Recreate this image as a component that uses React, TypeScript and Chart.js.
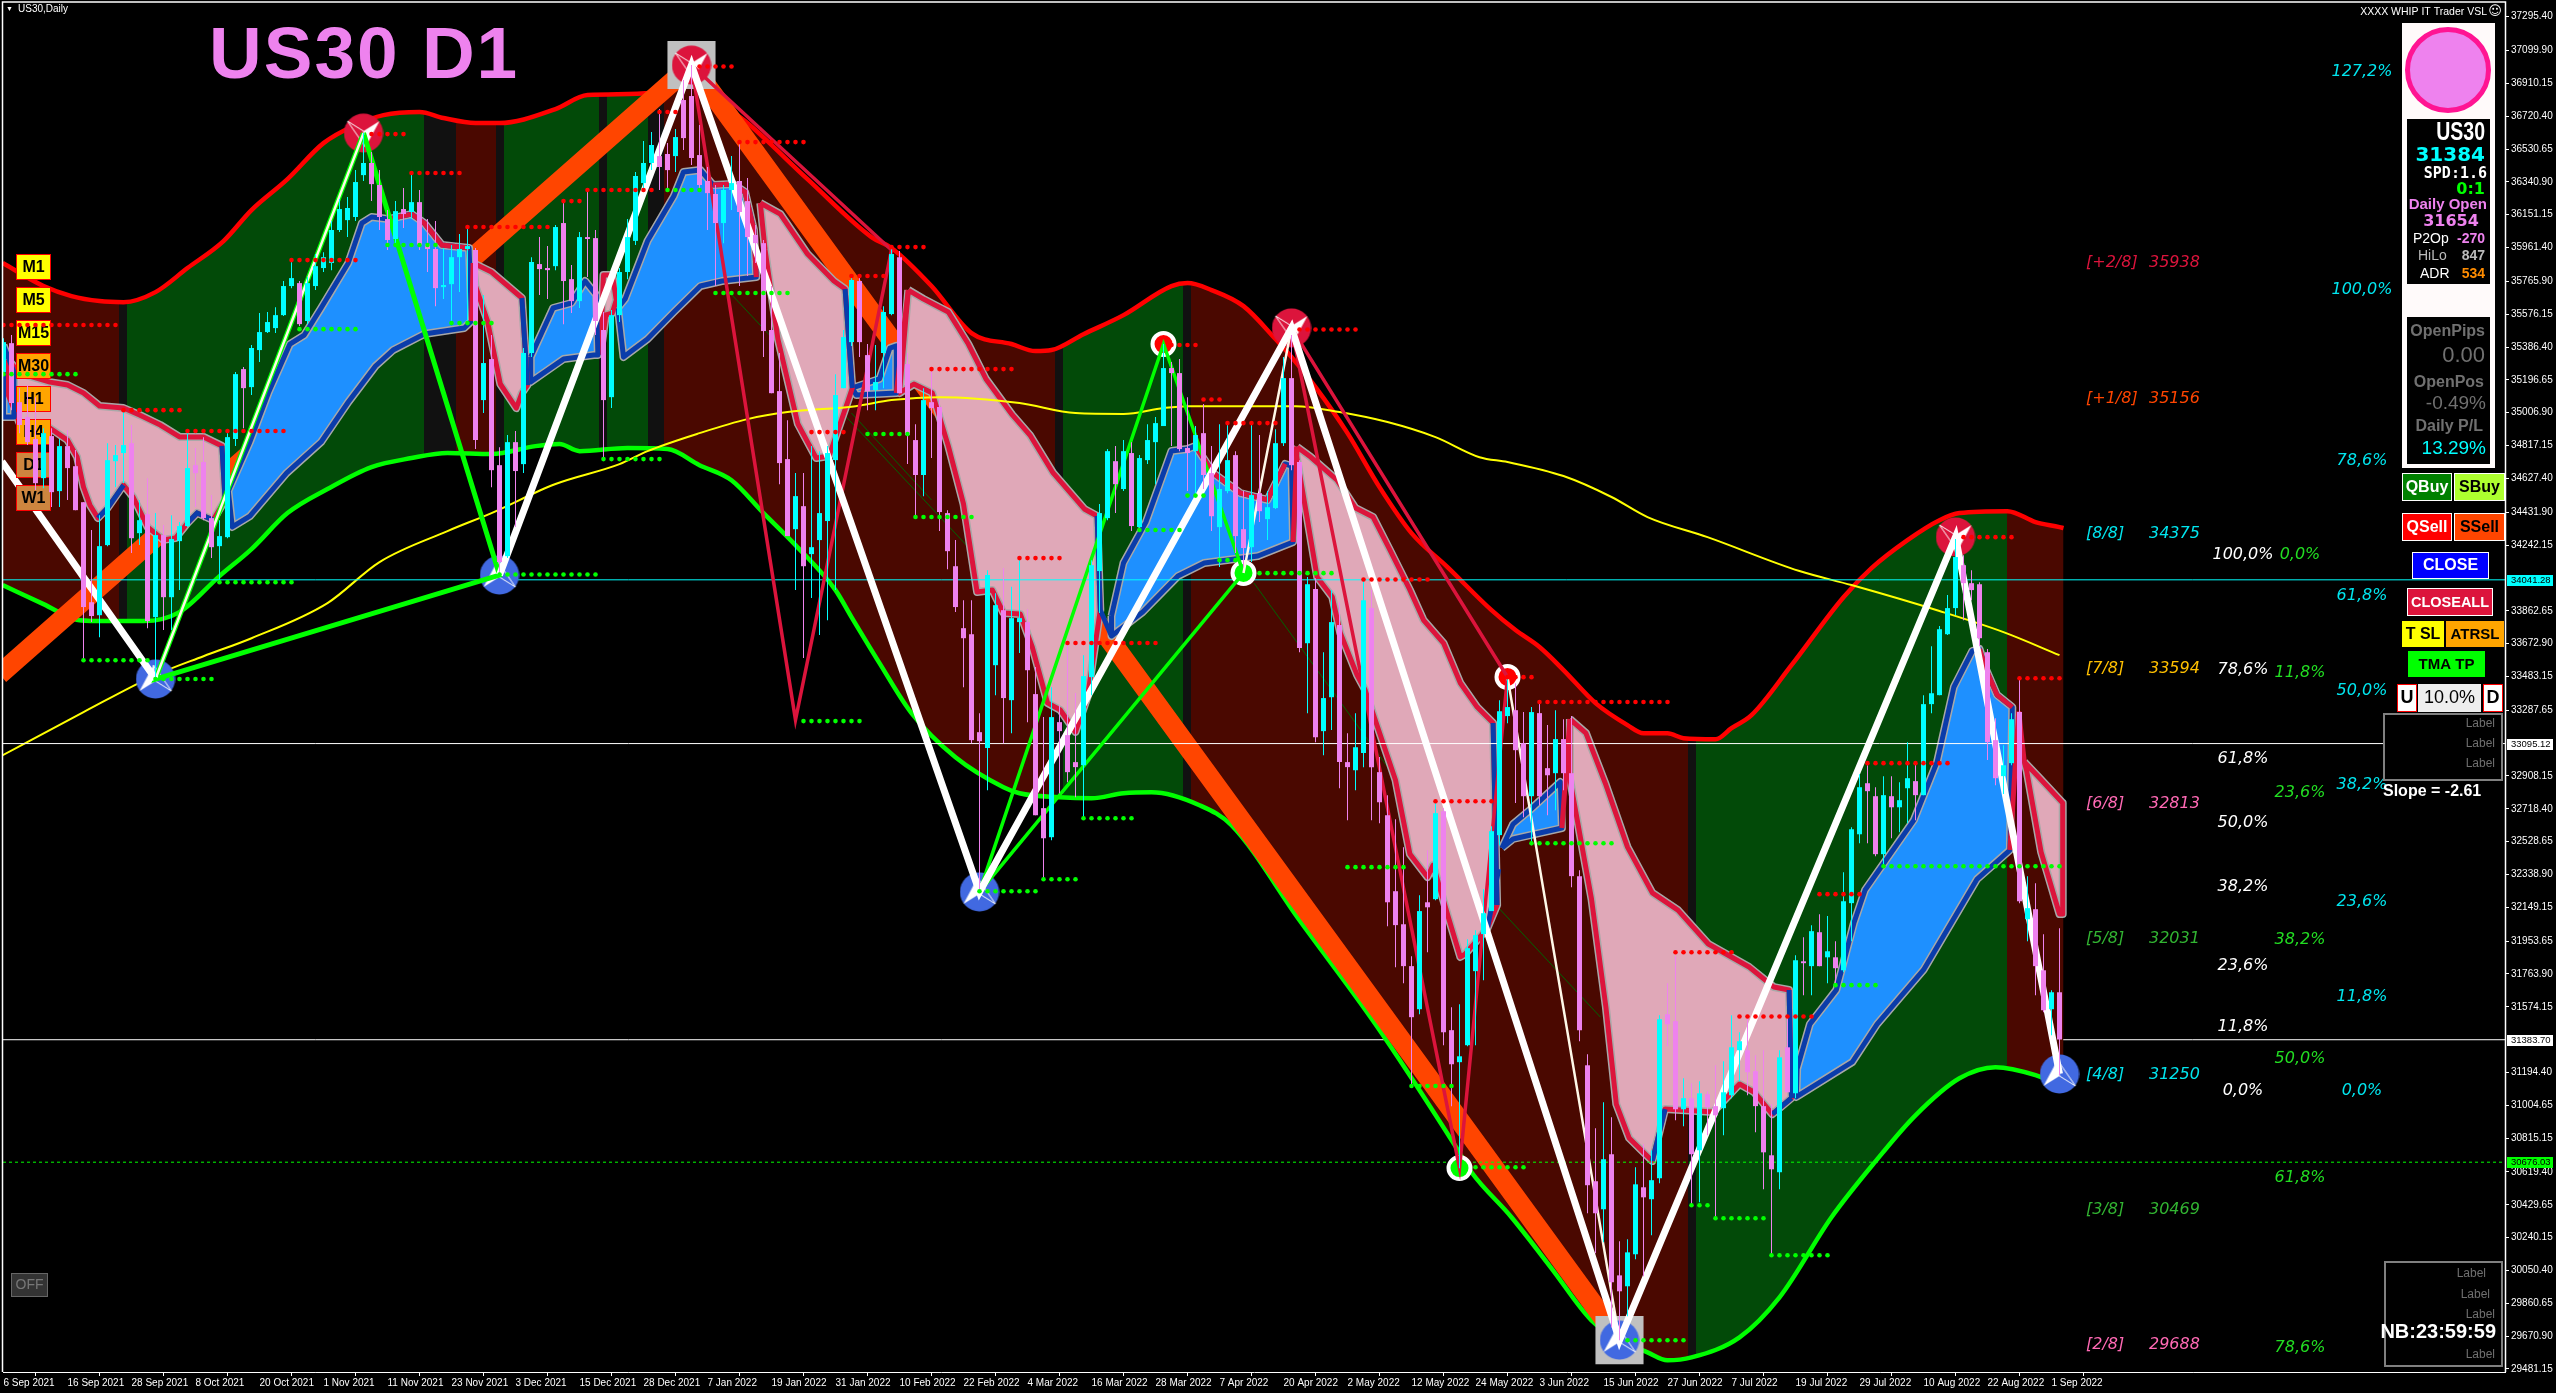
import React, { useEffect, useRef } from "react";
import { Chart, registerables } from "chart.js";
Chart.register(...registerables);

const dateLabels = ["6 Sep 2021","16 Sep 2021","28 Sep 2021","8 Oct 2021","20 Oct 2021","1 Nov 2021","11 Nov 2021","23 Nov 2021","3 Dec 2021","15 Dec 2021","28 Dec 2021","7 Jan 2022","19 Jan 2022","31 Jan 2022","10 Feb 2022","22 Feb 2022","4 Mar 2022","16 Mar 2022","28 Mar 2022","7 Apr 2022","20 Apr 2022","2 May 2022","12 May 2022","24 May 2022","3 Jun 2022","15 Jun 2022","27 Jun 2022","7 Jul 2022","19 Jul 2022","29 Jul 2022","10 Aug 2022","22 Aug 2022","1 Sep 2022"];
const priceTicks = [37295.40,37099.90,36910.15,36720.40,36530.65,36340.90,36151.15,35961.40,35765.90,35576.15,35386.40,35196.65,35006.90,34817.15,34627.40,34431.90,34242.15,33862.65,33672.90,33483.15,33287.65,32908.15,32718.40,32528.65,32338.90,32149.15,31953.65,31763.90,31574.15,31194.40,31004.65,30815.15,30619.40,30429.65,30240.15,30050.40,29860.65,29670.90,29481.15];

const opens = [35242,35409,35068,34982,34855,34629,34872,34554,34814,34698,
34490,33912,33837,34242,34727,34774,34831,34311,34421,33826,
34300,33941,34265,34352,34704,34722,34398,34236,34288,34855,
35259,35155,35369,35473,35496,35571,35739,35756,35537,35739,
35843,35872,36063,36120,36138,36380,36450,36323,36126,36011,
36184,36167,36224,35982,35953,35733,35750,35906,35953,35947,
35080,35317,34704,34178,34837,34710,35352,35866,35843,35854,
36103,35779,35652,36022,36016,35485,35097,35571,35820,36000,
36334,36450,36490,36502,36490,36814,36837,36496,36346,36271,
36103,36294,36346,36230,36034,35987,35485,35132,34739,34334,
34467,34190,34271,34381,34733,35149,35415,35768,35340,35138,
35352,35577,35906,35288,34849,34647,35068,35040,34427,34120,
33762,33727,33161,33069,33548,33866,33346,33797,33797,33381,
32722,32554,33219,33144,32988,32970,33479,34092,34398,34727,
34566,34774,34346,34733,34837,34930,35265,35236,34803,34785,
34889,34658,34346,34554,34762,34334,34230,34542,34392,34456,
34831,35207,34722,33675,33988,33167,33363,33780,32988,32941,
33040,33878,32930,32681,32242,32051,31809,31560,32178,32196,
32704,31439,31254,31352,31780,31994,32127,32566,33254,33288,
33097,32791,33271,32953,32924,33121,32924,32329,31236,30566,
30404,30722,30022,29959,30144,30531,30462,30583,31531,31491,
30982,31046,30745,31069,31000,30988,31063,31323,31323,31202,
31000,30716,30618,31340,31074,31837,31809,32005,31860,31860,
31785,32173,32571,32866,32791,32456,32791,32727,32837,32878,
32797,33323,33375,33727,33878,34126,34022,34016,33623,33115,
32907,32982,33277,32080,32138,31785,31560,31658];
const closes = [35415,35063,34936,34837,34600,34889,34548,34814,34687,34444,
33884,33832,34236,34733,34762,34820,34282,34386,33803,34300,
33941,34277,34352,34687,34658,34398,34230,34294,34866,35230,
35149,35381,35473,35531,35571,35739,35785,35519,35756,35854,
35906,36063,36184,36190,36340,36450,36328,36138,36005,36172,
36155,36224,35976,35953,35727,35745,35906,35953,35970,34849,
35294,34675,34144,34837,34670,35352,35878,35837,35831,36080,
35768,35652,36022,36011,35537,35080,35571,35820,36022,36375,
36450,36554,36427,36409,36600,36594,36479,36323,36276,36103,
36294,36334,36167,36022,35987,35479,35120,34716,34294,34525,
34120,34230,34427,34774,35109,35444,35774,35415,35132,35184,
35589,35924,35120,34878,34647,35080,35034,34433,34207,33884,
33704,33115,33109,34069,33895,33358,33820,33820,33519,32681,
32548,33248,33167,32930,32959,33485,34126,34427,34785,34594,
34785,34352,34745,34849,34947,35265,35236,34797,34774,34878,
34647,34409,34566,34733,34294,34225,34531,34438,34461,34831,
35207,34704,33647,34016,33132,33358,33797,32988,32959,33074,
33924,32959,32756,32178,32046,31809,31514,32127,32149,32693,
31427,31242,31288,31913,31988,32115,32589,33282,33306,33057,
32791,33277,32791,32912,33121,32924,32329,31439,30543,30381,
30693,29982,29930,30155,30548,30473,30572,31502,31473,30982,
31046,30722,31074,30994,30947,31080,31340,31375,31196,31000,
30733,30635,31282,31080,31843,31826,32011,31809,31895,31797,
32184,32600,32843,32820,32456,32797,32727,32768,32895,32797,
33323,33386,33756,33878,34173,34022,33982,33704,33103,32895,
32970,33236,32184,32144,31809,31554,31658,31385];
const highs = [35438,35456,35149,35167,35097,34918,34918,34855,34907,34791,
34490,34329,34415,34831,34820,35011,34936,34502,34629,34427,
34358,34415,34375,34895,34803,34866,34531,34386,34889,35242,
35271,35398,35583,35589,35617,35768,35883,35768,35791,35924,
35935,36115,36242,36253,36409,36623,36513,36409,36178,36230,
36305,36386,36294,36126,36115,35959,35976,36040,36092,35959,
35687,35456,34808,34878,34901,35381,35906,36022,35970,36092,
36230,35860,36051,36294,36063,35589,35600,35843,36126,36398,
36577,36629,36762,36565,36646,36930,37016,36670,36427,36323,
36323,36490,36565,36363,36092,36005,35739,35352,34964,34658,
34658,34814,34785,34814,35230,35485,35791,35791,35404,35398,
35623,35959,35941,35352,34941,35149,35253,35080,34444,34271,
33924,33924,33271,34097,33964,34109,34001,34155,33872,33537,
33248,33421,33317,33664,33387,33606,34155,34479,34797,34814,
34849,34837,34762,34941,34982,35404,35300,35317,35097,34930,
35057,34814,34941,34941,34785,34554,34941,34878,34554,34912,
35329,35456,34733,34057,34051,33623,33982,33912,33155,33271,
34040,33982,33017,32797,32658,32496,31866,32219,32479,32756,
32722,31572,31589,31965,32017,32254,32618,33346,33479,33444,
33277,33306,33346,33202,33288,33236,33254,32363,31300,30872,
31022,30936,30219,30231,30647,30780,30745,31525,31710,31866,
31161,31132,31144,31086,31236,31259,31525,31427,31525,31294,
31323,31011,31323,31525,31872,31976,32045,32109,32098,31953,
32352,32612,32918,32970,32843,32907,32907,32872,33103,32982,
33375,33658,33774,33953,34277,34184,34097,34028,33641,33242,
33086,33271,33462,32329,32288,31993,31670,32028];
const lows = [35219,35022,34889,34820,34560,34571,34462,34462,34502,34444,
33577,33797,33710,34236,34577,34600,34196,34242,33762,33462,
33751,33751,33982,34346,34462,34386,34167,34028,34282,34814,
34918,35109,35300,35467,35467,35566,35727,35508,35519,35716,
35820,35831,36051,36022,36115,36346,36230,36063,35947,35976,
36074,36126,35947,35820,35623,35664,35519,35704,35537,34797,
35005,34577,34069,34167,34346,34658,35329,35687,35664,35831,
35519,35583,35612,35791,35456,34745,35034,35531,35779,35976,
36294,36409,36294,36305,36398,36525,36438,36294,36063,35739,
35987,36178,35739,35797,35872,35329,35120,34594,34294,33982,
33589,33936,33722,33808,33982,35149,35392,35329,35022,35022,
35149,35571,35120,34710,34415,34525,34745,34323,34103,33855,
33421,33097,32236,32826,33375,33097,33155,33618,33219,32681,
32317,32537,32808,32872,32785,32664,33375,33849,34386,34427,
34554,34323,34334,34710,34594,34930,34814,34785,34554,34531,
34566,34323,34115,34542,34196,34115,34144,34375,34271,34450,
34814,34675,33623,33271,33103,33028,33173,32837,32652,32826,
32959,32652,32635,32040,31803,31710,31121,31531,31889,32190,
31352,31000,30641,31346,31352,31728,32127,32508,33213,32751,
32670,32508,32739,32681,32710,32826,32265,31375,30381,30150,
30213,29722,29647,29786,30115,30017,30254,30554,31346,30918,
30884,30427,30444,30832,30352,30832,31046,31144,31063,30849,
30520,30138,30520,31080,31046,31641,31641,31809,31710,31710,
31774,31953,32519,32519,32444,32392,32548,32583,32635,32652,
32797,33271,33375,33722,33837,33808,33924,33658,33000,32855,
32803,32970,32173,31953,31641,31543,31410,31179];

const upperBars = [-0.1,5,8.5,12,15,19,23,27.5,31,35.5,40,44,47.5,52,55,59,62,69,73,81,86,88,93,100.5,108.5,111,116,121,126,129,131,135,140,146,148,151,155,159,161,164,168,172,176,180.5,186,189,192,195,199,203,205,208,210,214,216,218.5,223.5,230,233.5,238,242,244.5,250.5,254,257,257.5];
const upperPrices = [35872,35739,35681,35652,35646,35704,35843,35999,36178,36357,36565,36670,36727,36745,36710,36681,36681,36762,36843,36854,36976,36860,36681,36357,36022,35959,35739,35467,35404,35363,35369,35461,35571,35739,35756,35716,35623,35433,35329,35155,34889,34577,34311,34115,33866,33751,33653,33520,33329,33202,33155,33155,33126,33120,33184,33259,33548,33941,34109,34271,34386,34427,34438,34375,34346,34340];
const lowerBars = [-0.1,5,9.5,13,17.5,22,27,31,35.5,40.5,46,51,55.5,61,66.5,69.5,72,78,83,87,91,95,99,104,106,109.5,113.5,119,125,127,132,136,140,143.5,149.5,153.5,162,171.5,181.5,183.5,188.5,193.5,198.5,202,205.5,208,211,217,222,228.5,234,239,244.5,249,254,257,257.5];
const lowerPrices = [34011,33901,33808,33803,33803,33855,34063,34219,34427,34566,34693,34745,34774,34768,34814,34826,34785,34803,34797,34704,34617,34427,34242,33982,33826,33560,33271,33016,32843,32808,32785,32779,32808,32814,32739,32623,32074,31473,30768,30618,30358,30063,29762,29647,29577,29531,29548,29664,29895,30358,30681,30947,31161,31225,31179,31121,31110];
const maBars = [-0.1,10,19,25,31,40.5,47,55.5,61,69,77,80.5,87,93,98,106.5,111,117,127,134,140,145,148,161.5,167,173,179,184.5,188,195,201,205.5,213,224.5,231,242,250,257];
const maPrices = [33028,33277,33491,33600,33704,33907,34144,34323,34427,34595,34710,34785,34889,34970,35011,35045,35080,35097,35063,35005,35000,35034,35045,35045,35011,34953,34866,34750,34722,34641,34520,34404,34288,34092,34011,33861,33739,33606];

const zoneEnds = [14.5,15.5,52.5,56.5,61.5,62.5,74.5,75.5,80.5,82.5,131.5,132.5,147.5,148.5,210.5,211.5,250.5,257.5];
const zoneKinds = ["red","grey","green","grey","red","grey","green","grey","green","grey","red","grey","green","grey","red","grey","green","red"];

const blueCloud0Bars = [0,1.3,1.3,0,0];
const blueCloud0Prices = [35398,35242,34982,34982,35398];
const pinkCloud1Bars = [0.6,2,5.8,8,10,12,15,17,19.6,22,25,27.3,27.7,26.2,24.2,23,21.5,20,18,17,16.2,15,13,11.8,10.8,10,9.2,8,5.8,2,0.6,0.6];
const pinkCloud1Prices = [35312,35236,35184,35167,35121,35046,35034,34994,34936,34867,34867,34815,34503,34387,34428,34370,34283,34272,34347,34445,34520,34589,34456,34399,34474,34578,34751,34849,34919,34948,35109,35312];
const blueCloud1Bars = [28.1,30.8,33.1,35.8,37.6,39.7,43.1,44.8,46,48.1,51,52.6,54.8,58.2,58.5,57.6,52.6,48.7,46.5,43.1,39.7,35.4,30.8,28.6,28.1];
const blueCloud1Prices = [34555,34838,35121,35404,35456,35612,35872,36103,36138,36126,36155,36103,35976,35959,35537,35497,35462,35369,35277,35069,34838,34659,34410,34347,34555];
const pinkCloud2Bars = [58.7,61,64.8,65.5,64.8,64.1,62.1,60.5,59,58.7];
const pinkCloud2Prices = [35872,35820,35670,35167,35121,35034,35173,35537,35739,35872];
const blueCloud2Bars = [65.9,68.7,71,72.7,74.1,74.3,73.8,70,65.9,65.9];
const blueCloud2Prices = [35329,35612,35641,35768,35687,35341,35341,35317,35185,35329];
const pinkCloud3Bars = [74.6,75,76.1,76.6,76.1,75.3,74.6];
const pinkCloud3Prices = [35341,35803,35803,35658,35583,35572,35341];
const blueCloud3Bars = [76.8,77.7,80.5,83.8,85,87.1,88.7,91.2,92.7,93.8,94.1,89.8,87.1,83.8,80.5,77.5,76.8];
const blueCloud3Prices = [35612,35664,35999,36259,36398,36410,36323,36329,36282,36063,35791,35768,35739,35589,35433,35329,35612];
const pinkCloud4Bars = [94.6,97.1,100.5,103.8,105.2,106.1,105.6,103.2,101.6,99.3,96.8,95.2,94.6];
const pinkCloud4Prices = [36219,36155,35924,35768,35722,35150,35080,34757,34745,34942,35433,35947,36219];
const blueCloud4Bars = [106.1,109.5,110.8,111.6,111.6,106.6,106.1];
const blueCloud4Prices = [35150,35202,35381,35393,35121,35109,35150];
const pinkCloud5Bars = [113.1,115,118.1,120.6,122.8,126.1,128.3,131.2,135.1,136.7,137.1,135.5,134,132.1,130.5,128.6,127.1,125,123.6,121.7,120,118.1,116.1,113.8,112,113.1];
const pinkCloud5Prices = [35716,35664,35589,35404,35202,34994,34878,34659,34451,34410,33867,33364,33162,33289,33330,33653,33844,33850,33983,33971,34480,34815,35121,35173,35121,35716];
const blueCloud5Bars = [138.5,140,142.8,146,148,149,151.2,154.6,158,160.2,161,161.2,156.8,150.1,146.8,142.4,138.5,138.5];
const blueCloud5Prices = [33832,34139,34375,34786,34797,34815,34659,34543,34503,34711,34699,34260,34179,34139,34063,33855,33717,33832];
const pinkCloud6Bars = [161.7,163.4,166.7,169,171.2,173.3,175.8,177.5,180,182.1,184.2,186.2,186.7,185.5,182.7,182.1,180.6,178.7,178,175.8,174,170.2,169.2,167.1,166.1,164.2,163,161.5,161.7];
const pinkCloud6Prices = [34809,34751,34618,34456,34404,34214,33983,33809,33676,33445,33306,33214,32162,32029,31879,31862,32093,32393,32324,32457,32885,33405,33491,33734,33942,34058,34387,34792,34809];
const blueCloud6Bars = [187.3,188.7,190.8,194.6,194.8,188.7,187.3];
const blueCloud6Prices = [32492,32630,32711,32873,32607,32544,32492];
const pinkCloud7Bars = [195.8,197.8,200.3,203,206.1,209.3,213.1,218.2,221.3,223.2,223.5,221.1,218.8,217,213.7,207.7,206.1,203.2,201.6,200.3,198.5,195.8,195.8];
const pinkCloud7Prices = [33237,33156,32856,32497,32232,32133,31937,31804,31688,31671,31047,30954,31082,31128,30966,30983,30683,30816,31012,31573,32197,32890,33237];
const blueCloud7Bars = [224.2,225.8,229.1,231.3,232.7,238.8,241.7,243.8,246.1,247,247.8,249.2,251.1,250.8,246.7,240,234.2,231.1,224.1,224.2];
const blueCloud7Prices = [31215,31474,31671,32058,32249,32653,32989,33422,33630,33642,33526,33376,33306,32480,32312,31787,31474,31255,31053,31215];
const pinkCloud8Bars = [252.6,254.5,257.4,257.4,257,254.7,252.9,252.6];
const pinkCloud8Prices = [32989,32896,32752,32110,32110,32469,32937,32989];

const blueEdgeBars = [11.8,13,15,NaN,23,24.2,26.2,NaN,27.3,27.7,NaN,64.8,65.5,NaN,105.2,106.1,NaN,136.7,137.1,138.5,NaN,186.2,186.7,NaN,185.5,186.9,NaN,206.1,207.7,NaN,221.1,223.5,NaN,223.2,223.5];
const blueEdgePrices = [34399,34456,34589,NaN,34370,34428,34387,NaN,34815,34503,NaN,35670,35167,NaN,35722,35150,NaN,34410,33867,33717,NaN,33214,32162,NaN,32029,32370,NaN,30683,30983,NaN,30954,31047,NaN,31671,31047];
const crimsonEdgeBars = [48.1,51,52.6,54.8,58.2,NaN,58.5,58.7,NaN,88.7,91.2,92.7,93.8,94.1,NaN,111.6,113.1,NaN,149,151.2,154.6,158,160.2,NaN,161.2,161.7,NaN,194.8,195.8,NaN,247,247.8,249.2,251.1,NaN,250.8,251.9,252.6];
const crimsonEdgePrices = [36126,36155,36103,35976,35959,NaN,35537,35872,NaN,36323,36329,36282,36063,35791,NaN,35121,35716,NaN,34815,34659,34543,34503,34711,NaN,34260,34809,NaN,32607,33237,NaN,33642,33526,33376,33306,NaN,32480,33280,32989];
const thinBars = [90.7,120.6,NaN,106,116,NaN,156.3,173.3,NaN,186.8,199.6,NaN,228.8,234.4];
const thinPrices = [35705,34230,NaN,35005,34503,NaN,34023,32942,NaN,32150,31515,NaN,31775,32364];

const orangeBars = [-0.5,86,202];
const orangePrices = [33495,37016,29648];
const whiteThickBars = [-0.2,19,NaN,62,86,122,161,202,244,257];
const whiteThickPrices = [34725,33468,NaN,34069,37016,32238,35497,29648,34289,31186];
const whiteThinBars = [19,45,NaN,188,202,NaN,155,161];
const whiteThinPrices = [33468,36623,NaN,33480,29648,NaN,34081,35497];
const greenZigA_Bars = [45,19,62,45];
const greenZigA_Prices = [36623,33468,34069,36623];
const greenZigB_Bars = [122,145,155,122];
const greenZigB_Prices = [32238,35404,34081,32238];
const crimsonZigBars = [86,99,111,86,NaN,161,182,188,161];
const crimsonZigPrices = [37016,33232,35947,37016,NaN,35497,30642,33480,35497];

const crimsonPivotBars = [45,86,161,244];
const crimsonPivotPrices = [36623,37016,35497,34289];
const bluePivotBars = [19,62,122,202,257];
const bluePivotPrices = [33468,34069,32238,29648,31186];
const squareBars = [86,202];
const squarePrices = [37016,29648];
const redRingBars = [145,188];
const redRingPrices = [35404,33480];
const greenRingBars = [155,182];
const greenRingPrices = [34081,30642];

const redDotStart = [0,15,23,36,46,51,58,70,73,82,87,92,101,106,111,116,127,133,146,150,153,162,170,179,188,192,209,217,227,233,245,252];
const redDotEnd = [14,22,35,44,50,57,68,72,81,84,91,100,105,110,115,126,132,144,149,152,159,169,178,186,191,208,216,226,232,243,251,257];
const redDotLevel = [35514,35022,34901,35889,36617,36392,36080,36230,36294,36745,37008,36571,34895,35797,35964,35259,34167,33676,35398,35083,34947,35488,34043,32762,33479,33335,31889,31518,32225,32982,34288,33473];
const greenDotStart = [0,10,19,27,37,48,56,62,75,83,89,100,108,114,122,130,135,142,148,152,157,168,176,184,191,203,211,214,221,229,235];
const greenDotEnd = [9,18,26,36,44,54,61,74,82,87,98,107,113,121,129,134,141,147,150,154,166,175,181,190,201,210,213,220,228,234,257];
const greenDotLevel = [35230,33577,33468,34028,35490,35976,35525,34072,34739,36294,35699,33225,34884,34404,32242,32311,32664,34329,34528,34155,34080,32381,31116,30647,32519,29647,30427,30352,30138,31699,32386];

const priceLine = 31383.7;
const cyanLine = 34041.28;
const whiteLine = 33095.12;
const limeLine = 30676.03;

const murrayNames = ["[+2/8]","[+1/8]","[8/8]","[7/8]","[6/8]","[5/8]","[4/8]","[3/8]","[2/8]"];
const murrayLevels = [35938,35156,34375,33594,32813,32031,31250,30469,29688];
const murrayColors = ["#DC143C","#FF4500","#00E5EE","#FFC000","#FF69B4","#32B432","#00E5EE","#32B432","#FF69B4"];
const fibWhiteNames = ["100,0%","78,6%","61,8%","50,0%","38,2%","23,6%","11,8%","0,0%"];
const fibWhiteLevels = [34185,33520,33006,32636,32266,31809,31457,31087];
const fibGreenNames = ["0,0%","11,8%","23,6%","38,2%","50,0%","61,8%","78,6%"];
const fibGreenLevels = [34185,33503,32809,31960,31272,30585,29602];
const fibCyanNames = ["127,2%","100,0%","78,6%","61,8%","50,0%","38,2%","23,6%","11,8%","0,0%"];
const fibCyanLevels = [36976,35716,34728,33948,33399,32855,32179,31630,31087];
const timeframes = ["M1","M5","M15","M30","H1","H4","D1","W1"];
const timeframeColors = ["#FFFF00","#FFFF00","#FFFF00","#FFA500","#FFA500","#FFA500","#CD853F","#CD853F"];

const CYAN = "#00FFFF", VIOLET = "#EE82EE", CRIMSON = "#DC143C", ZBLUE = "#0A3CAA", HALO = "#A8A8A8";
const ARIAL = '"Liberation Sans",sans-serif';
const DEJAVU = '"DejaVu Sans",sans-serif';

const pts = (xs: number[], ys: number[]) => xs.map((x, i) => ({ x, y: ys[i] }));
const runs = (a: number[], b: number[], l: number[]) => {
  const out: { x: number; y: number }[] = [];
  a.forEach((s, k) => { for (let i = s; i <= b[k]; i++) out.push({ x: i, y: l[k] }); });
  return out;
};
const line = (label: string, xs: number[], ys: number[], color: string, width: number, order: number, extra: any = {}) => ({
  type: "line", label, data: pts(xs, ys), borderColor: color, borderWidth: width, pointRadius: 0, fill: false, tension: 0,
  spanGaps: false, order, borderJoinStyle: "miter", ...extra,
});
const marks = (label: string, xs: number[], ys: number[], order: number, extra: any) => ({
  type: "line", label, data: pts(xs, ys), showLine: false, order, ...extra,
});
const cloud = (name: string, xs: number[], ys: number[], fillCol: string, edge: string, base: number) => [
  line(name + " halo", xs, ys, HALO, 8, base + 0.1, { fill: "shape", backgroundColor: fillCol, borderJoinStyle: "round" }),
  line(name, xs, ys, edge, 5, base, { borderJoinStyle: "round" }),
];

function makeMarker(fillCol: string, up: boolean) {
  const c = document.createElement("canvas");
  c.width = 40; c.height = 40;
  const g = c.getContext("2d")!;
  g.fillStyle = fillCol;
  g.beginPath(); g.arc(20, 20, 19.6, 0, Math.PI * 2); g.fill();
  g.translate(20, 20);
  if (!up) g.rotate(Math.PI);
  g.fillStyle = "#fff"; g.strokeStyle = "#fff"; g.lineWidth = 1;
  g.beginPath(); g.moveTo(-2, -14); g.lineTo(-16, 12); g.lineTo(0, 2); g.closePath(); g.fill();
  g.beginPath(); g.moveTo(-2, -14); g.lineTo(16, 12); g.lineTo(0, 2); g.closePath(); g.stroke();
  return c;
}

function put(g: CanvasRenderingContext2D, s: string, x: number, y: number, font: string, color: string, align: CanvasTextAlign = "left") {
  g.font = font; g.fillStyle = color; g.textAlign = align; g.textBaseline = "middle";
  g.fillText(s, x, y);
}
// text squeezed horizontally (the platform's narrow faces are not installed)
function putSq(g: CanvasRenderingContext2D, s: string, x: number, y: number, font: string, color: string, sx: number, align: CanvasTextAlign = "left") {
  g.save(); g.translate(x, y); g.scale(sx, 1);
  put(g, s, 0, 0, font, color, align);
  g.restore();
}
function btn(g: CanvasRenderingContext2D, s: string, x: number, y: number, w: number, h: number, bg: string, border: string, fg: string, font: string) {
  g.fillStyle = bg; g.fillRect(x, y, w, h);
  g.strokeStyle = border; g.lineWidth = 1; g.strokeRect(x + 0.5, y + 0.5, w - 1, h - 1);
  put(g, s, x + w / 2, y + h / 2 + 0.5, font, fg, "center");
}

const sceneryPlugin = {
  id: "scenery",
  beforeDraw(chart: any) {
    const g = chart.ctx; g.save(); g.fillStyle = "#000"; g.fillRect(0, 0, chart.width, chart.height); g.restore();
  },
  beforeDatasetDraw(chart: any, args: any) {
    if (chart.data.datasets[args.index].label !== "wicks") return;
    const g = chart.ctx; g.save();
    timeframes.forEach((t, i) => btn(g, t, 16, 254 + 33 * i, 35, 26, timeframeColors[i], "#FF0000", "#000", `bold 16px ${ARIAL}`));
    g.restore();
  },
  afterDraw(chart: any) {
    const g = chart.ctx, yS = chart.scales.y;
    const yp = (v: number) => yS.getPixelForValue(v);
    g.save();
    g.strokeStyle = "#fff"; g.lineWidth = 1.5;
    g.beginPath(); g.moveTo(2.5, 1372); g.lineTo(2.5, 2); g.lineTo(2505.5, 2); g.lineTo(2505.5, 1372); g.stroke();

    put(g, "▼", 6, 9, `7px ${ARIAL}`, "#fff");
    put(g, "US30,Daily", 18, 9, `10px ${ARIAL}`, "#fff");
    g.font = `bold 73px ${ARIAL}`; g.fillStyle = VIOLET; g.textAlign = "left"; g.textBaseline = "alphabetic";
    (g as any).letterSpacing = "2px";
    g.fillText("US30 D1", 209, 78);
    (g as any).letterSpacing = "0px";
    put(g, "XXXX WHIP IT Trader VSL", 2487, 12, `10.5px ${ARIAL}`, "#fff", "right");
    put(g, "☺", 2495, 12, `13px ${DEJAVU}`, "#fff", "center");

    murrayNames.forEach((n, i) => {
      const y = yp(murrayLevels[i]) + 11.5;
      put(g, n, 2086, y, `italic 16px ${DEJAVU}`, murrayColors[i]);
      put(g, String(murrayLevels[i]), 2149, y, `italic 16px ${DEJAVU}`, murrayColors[i]);
    });
    fibWhiteNames.forEach((n, i) => put(g, n, 2243, yp(fibWhiteLevels[i]), `italic 16px ${DEJAVU}`, "#fff", "center"));
    fibGreenNames.forEach((n, i) => put(g, n, 2300, yp(fibGreenLevels[i]), `italic 16px ${DEJAVU}`, "#22DD22", "center"));
    fibCyanNames.forEach((n, i) => put(g, n, 2362, yp(fibCyanLevels[i]), `italic 16px ${DEJAVU}`, "#00E5EE", "center"));

    // symbol panel
    g.fillStyle = "#FFFAFA"; g.fillRect(2402, 23, 93, 445);
    g.fillStyle = VIOLET; g.strokeStyle = "#FF1493"; g.lineWidth = 5;
    g.beginPath(); g.arc(2448, 70, 40.5, 0, Math.PI * 2); g.fill(); g.stroke();
    g.fillStyle = "#000"; g.fillRect(2407, 119, 83, 165); g.fillRect(2407, 317, 83, 147);
    const R = 2485;
    putSq(g, "US30", R, 133, `bold 25px ${ARIAL}`, "#fff", 0.78, "right");
    put(g, "31384", R, 156, `bold 20px ${DEJAVU}`, CYAN, "right");
    put(g, "SPD:1.6", R + 2, 174, `bold 15px "DejaVu Sans Mono",monospace`, "#fff", "right");
    put(g, "0:1", R, 190, `bold 16px ${DEJAVU}`, "#00FF00", "right");
    put(g, "Daily Open", R + 2, 205, `bold 15px ${ARIAL}`, VIOLET, "right");
    put(g, "31654", 2451, 222, `bold 16px ${DEJAVU}`, VIOLET, "center");
    put(g, "P2Op", 2413, 239, `14px ${ARIAL}`, "#fff");
    put(g, "-270", R, 239, `bold 14px ${ARIAL}`, VIOLET, "right");
    put(g, "HiLo", 2418, 256, `14px ${ARIAL}`, "#BBB");
    put(g, "847", R, 256, `bold 14px ${ARIAL}`, "#BBB", "right");
    put(g, "ADR", 2420, 274, `14px ${ARIAL}`, "#fff");
    put(g, "534", R, 274, `bold 14px ${ARIAL}`, "#FF8C00", "right");
    const GREY = "#707070";
    put(g, "OpenPips", R, 332, `bold 16px ${ARIAL}`, GREY, "right");
    put(g, "0.00", R, 356, `22px ${ARIAL}`, GREY, "right");
    put(g, "OpenPos", 2484, 383, `bold 16px ${ARIAL}`, GREY, "right");
    put(g, "-0.49%", R + 1, 404, `19px ${ARIAL}`, GREY, "right");
    put(g, "Daily P/L", 2483, 427, `bold 16px ${ARIAL}`, GREY, "right");
    put(g, "13.29%", R + 1, 449, `19px ${ARIAL}`, CYAN, "right");

    const B = `bold 16px ${ARIAL}`;
    btn(g, "QBuy", 2402, 473, 50, 28, "#008000", "#fff", "#fff", B);
    btn(g, "SBuy", 2454, 473, 51, 28, "#ADFF2F", "#fff", "#000", B);
    btn(g, "QSell", 2402, 513, 50, 28, "#FF0000", "#fff", "#fff", B);
    btn(g, "SSell", 2454, 513, 51, 28, "#FF4500", "#fff", "#000", B);
    btn(g, "CLOSE", 2412, 552, 77, 27, "#0000FF", "#fff", "#fff", B);
    btn(g, "CLOSEALL", 2407, 588, 86, 28, CRIMSON, "#fff", "#fff", `bold 14.5px ${ARIAL}`);
    btn(g, "T SL", 2402, 621, 42, 26, "#FFFF00", "#FFFF00", "#000", B);
    btn(g, "ATRSL", 2446, 621, 58, 26, "#FFA500", "#FFA500", "#000", `bold 15px ${ARIAL}`);
    btn(g, "TMA TP", 2408, 651, 77, 26, "#00FF00", "#00FF00", "#000", `bold 15px ${ARIAL}`);
    btn(g, "U", 2397, 684, 20, 28, "#fff", "#FF0000", "#000", `bold 18px ${ARIAL}`);
    btn(g, "10.0%", 2418, 684, 63, 28, "#EEE", "#EEE", "#000", `18px ${ARIAL}`);
    btn(g, "D", 2483, 684, 20, 28, "#fff", "#FF0000", "#000", `bold 18px ${ARIAL}`);

    g.fillStyle = "#000"; g.fillRect(2383, 713, 120, 68);
    g.strokeStyle = "#808080"; g.lineWidth = 2; g.strokeRect(2384, 714, 118, 66);
    [724, 744, 764].forEach((y) => put(g, "Label", 2495, y, `12px ${ARIAL}`, "#707070", "right"));
    put(g, "Slope = -2.61", 2383, 792, `bold 16px ${ARIAL}`, "#fff");

    g.fillStyle = "#000"; g.fillRect(2384, 1261, 119, 106);
    g.strokeStyle = "#808080"; g.lineWidth = 2; g.strokeRect(2385, 1262, 117, 104);
    put(g, "Label", 2486, 1274, `12px ${ARIAL}`, "#707070", "right");
    put(g, "Label", 2490, 1295, `12px ${ARIAL}`, "#707070", "right");
    put(g, "Label", 2495, 1315, `12px ${ARIAL}`, "#707070", "right");
    put(g, "NB:23:59:59", 2496, 1332, `bold 20px ${ARIAL}`, "#fff", "right");
    put(g, "Label", 2495, 1355, `12px ${ARIAL}`, "#707070", "right");
    btn(g, "OFF", 11, 1273, 37, 24, "#333", "#666", "#777", `14px ${ARIAL}`);

    const tag = (v: number, bg: string) => {
      const y = Math.round(yp(v));
      g.fillStyle = bg; g.fillRect(2507, y - 5, 46, 11);
      put(g, v.toFixed(2), 2511, y + 0.5, `9.5px ${ARIAL}`, "#000");
    };
    tag(cyanLine, CYAN); tag(whiteLine, "#fff"); tag(priceLine, "#fff"); tag(limeLine, "#00FF00");
    g.restore();
  },
};

export default function App() {
  const ref = useRef<HTMLCanvasElement | null>(null);
  useEffect(() => {
    document.body.style.margin = "0";
    document.body.style.background = "#000";
    const crimsonMark = makeMarker(CRIMSON, false);
    const blueMark = makeMarker("#4169E1", true);
    const barXs = opens.map((_, i) => i);
    const zoneColors: Record<string, string> = { red: "#4A0800", grey: "#111111", green: "#024A08" };
    const zoneFill = (ctx: any) => {
      const chart = ctx.chart, xS = chart.scales.x;
      if (!chart.chartArea || !xS) return "#4A0800";
      const x0 = xS.getPixelForValue(-0.1), x1 = xS.getPixelForValue(257.5);
      const grad = chart.ctx.createLinearGradient(x0, 0, x1, 0);
      let last = 0;
      zoneEnds.forEach((e, i) => {
        const s = Math.min(1, (xS.getPixelForValue(e) - x0) / (x1 - x0));
        grad.addColorStop(last, zoneColors[zoneKinds[i]]);
        grad.addColorStop(s, zoneColors[zoneKinds[i]]);
        last = s;
      });
      return grad;
    };
    const xEnds = [-0.0625, 312.6875];
    const smooth = { cubicInterpolationMode: "monotone", borderJoinStyle: "round" };
    const datasets: any[] = [
      line("last price", xEnds, [priceLine, priceLine], "#fff", 1, 100),
      line("upper band", upperBars, upperPrices, "#FF0000", 4.5, 90, { fill: "+1", backgroundColor: zoneFill, ...smooth }),
      line("lower band", lowerBars, lowerPrices, "#00FF00", 4.5, 89, smooth),
      line("swing trend", orangeBars, orangePrices, "#FF4500", 20, 85),
      line("thin trend", thinBars, thinPrices, "#006400", 1, 84),
      ...cloud("blue0", blueCloud0Bars, blueCloud0Prices, "#1E90FF", ZBLUE, 80),
      ...cloud("pink1", pinkCloud1Bars, pinkCloud1Prices, "#E0A8B8", CRIMSON, 80),
      ...cloud("blue1", blueCloud1Bars, blueCloud1Prices, "#1E90FF", ZBLUE, 80),
      ...cloud("pink2", pinkCloud2Bars, pinkCloud2Prices, "#E0A8B8", CRIMSON, 80),
      ...cloud("blue2", blueCloud2Bars, blueCloud2Prices, "#1E90FF", ZBLUE, 80),
      ...cloud("pink3", pinkCloud3Bars, pinkCloud3Prices, "#E0A8B8", CRIMSON, 80),
      ...cloud("blue3", blueCloud3Bars, blueCloud3Prices, "#1E90FF", ZBLUE, 80),
      ...cloud("pink4", pinkCloud4Bars, pinkCloud4Prices, "#E0A8B8", CRIMSON, 80),
      ...cloud("blue4", blueCloud4Bars, blueCloud4Prices, "#1E90FF", ZBLUE, 80),
      ...cloud("pink5", pinkCloud5Bars, pinkCloud5Prices, "#E0A8B8", CRIMSON, 80),
      ...cloud("blue5", blueCloud5Bars, blueCloud5Prices, "#1E90FF", ZBLUE, 80),
      ...cloud("pink6", pinkCloud6Bars, pinkCloud6Prices, "#E0A8B8", CRIMSON, 80),
      ...cloud("blue6", blueCloud6Bars, blueCloud6Prices, "#1E90FF", ZBLUE, 80),
      ...cloud("pink7", pinkCloud7Bars, pinkCloud7Prices, "#E0A8B8", CRIMSON, 80),
      ...cloud("blue7", blueCloud7Bars, blueCloud7Prices, "#1E90FF", ZBLUE, 80),
      ...cloud("pink8", pinkCloud8Bars, pinkCloud8Prices, "#E0A8B8", CRIMSON, 80),
      line("blue edge", blueEdgeBars, blueEdgePrices, ZBLUE, 5, 78),
      line("crimson edge", crimsonEdgeBars, crimsonEdgePrices, CRIMSON, 5, 78),
      line("ma", maBars, maPrices, "#FFFF00", 2, 75, smooth),
      line("cyan level", xEnds, [cyanLine, cyanLine], CYAN, 1, 70),
      line("white level", xEnds, [whiteLine, whiteLine], "#fff", 1, 70),
      line("lime level", xEnds, [limeLine, limeLine], "#00FF00", 1, 70, { borderDash: [3, 3] }),
      marks("pivot squares", squareBars, squarePrices, 62, { pointStyle: "rect", pointRadius: 34, backgroundColor: "#C0C0C0", borderWidth: 0 }),
      marks("crimson pivots", crimsonPivotBars, crimsonPivotPrices, 60, { pointStyle: crimsonMark, pointRadius: 20 }),
      marks("blue pivots", bluePivotBars, bluePivotPrices, 60, { pointStyle: blueMark, pointRadius: 20 }),
      marks("red rings", redRingBars, redRingPrices, 60, { pointStyle: "circle", pointRadius: 11, backgroundColor: "#FF0000", borderColor: "#fff", borderWidth: 4 }),
      marks("green rings", greenRingBars, greenRingPrices, 60, { pointStyle: "circle", pointRadius: 11, backgroundColor: "#00FF00", borderColor: "#fff", borderWidth: 4 }),
      line("crimson zigzag", crimsonZigBars, crimsonZigPrices, CRIMSON, 3.5, 52),
      line("green zigzag a", greenZigA_Bars, greenZigA_Prices, "#00FF00", 5, 51),
      line("green zigzag b", greenZigB_Bars, greenZigB_Prices, "#00FF00", 3.5, 51),
      line("white thin", whiteThinBars, whiteThinPrices, "#FFF8E8", 2.5, 50.5),
      line("white zigzag", whiteThickBars, whiteThickPrices, "#fff", 7, 50),
      {
        type: "bar", label: "wicks", grouped: false, barThickness: 1, inflateAmount: 0, borderWidth: 0, order: 41,
        data: barXs.map((i) => ({ x: i, y: [lows[i], highs[i]] })),
        backgroundColor: barXs.map((i) => (closes[i] >= opens[i] ? CYAN : VIOLET)),
      },
      {
        type: "bar", label: "bodies", grouped: false, barThickness: 5, inflateAmount: 0, borderWidth: 0, order: 40,
        data: barXs.map((i) => ({ x: i, y: [opens[i], closes[i]] })),
        backgroundColor: barXs.map((i) => (closes[i] >= opens[i] ? CYAN : VIOLET)),
      },
      { ...marks("red dots", [], [], 30, { pointStyle: "circle", pointRadius: 2.3, backgroundColor: "#FF0000", borderWidth: 0 }), data: runs(redDotStart, redDotEnd, redDotLevel) },
      { ...marks("green dots", [], [], 30, { pointStyle: "circle", pointRadius: 2.3, backgroundColor: "#00FF00", borderWidth: 0 }), data: runs(greenDotStart, greenDotEnd, greenDotLevel) },
    ];
    const chart = new Chart(ref.current!, {
      type: "bar",
      data: { datasets },
      plugins: [sceneryPlugin],
      options: {
        animation: false,
        responsive: false,
        devicePixelRatio: 1,
        layout: { autoPadding: false, padding: { left: 3, top: 3, right: 0, bottom: 0 } },
        plugins: { legend: { display: false }, tooltip: { enabled: false }, title: { display: false } },
        elements: { point: { hoverRadius: 0 } },
        events: [],
        scales: {
          x: {
            type: "linear",
            min: -0.0625,
            max: 312.6875,
            offset: false,
            afterFit: (s: any) => { s.height = 21; s.paddingLeft = 0; s.paddingRight = 0; s.paddingTop = 0; s.paddingBottom = 0; },
            afterBuildTicks: (s: any) => { s.ticks = dateLabels.map((_, k) => ({ value: k * 8 })); },
            grid: { drawOnChartArea: false, drawTicks: true, tickLength: 4, color: "#fff" },
            border: { color: "#fff", width: 1 },
            ticks: {
              autoSkip: false, maxRotation: 0, minRotation: 0, includeBounds: false, align: "start", padding: 1,
              color: "#fff", font: { family: ARIAL, size: 10 },
              callback: (v: any) => dateLabels[Math.round(Number(v) / 8)],
            },
          },
          y: {
            type: "linear",
            position: "right",
            min: 29463.6,
            max: 37374.7,
            afterFit: (s: any) => { s.width = 51; s.paddingLeft = 0; s.paddingRight = 0; s.paddingTop = 0; s.paddingBottom = 0; },
            afterBuildTicks: (s: any) => { s.ticks = priceTicks.map((value) => ({ value })); },
            grid: { drawOnChartArea: false, drawTicks: true, tickLength: 4, color: "#fff" },
            border: { color: "#fff", width: 1 },
            ticks: {
              autoSkip: false, padding: 2, color: "#fff", font: { family: ARIAL, size: 10 }, crossAlign: "near",
              callback: (v: any) => Number(v).toFixed(2),
            },
          },
        },
      },
    } as any);
    return () => chart.destroy();
  }, []);
  return <canvas ref={ref} width={2556} height={1393} style={{ display: "block", width: 2556, height: 1393 }} />;
}
